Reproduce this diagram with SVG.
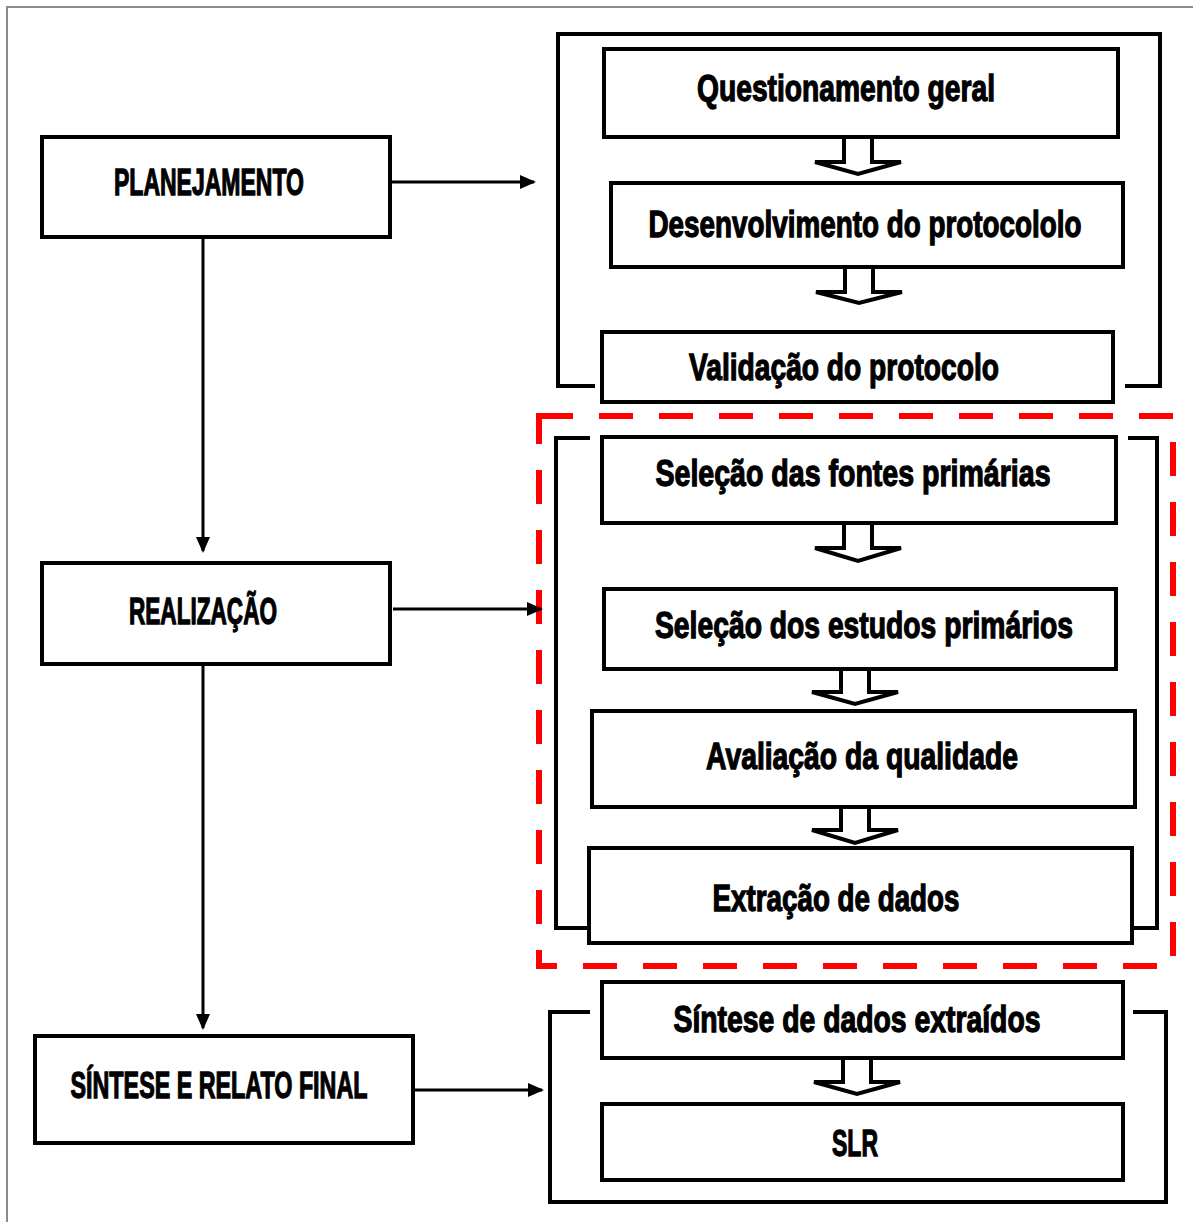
<svg xmlns="http://www.w3.org/2000/svg" width="1193" height="1222" viewBox="0 0 1193 1222">
<style>
.box{fill:#fff;stroke:#000;stroke-width:4}
.brk{fill:none;stroke:#000;stroke-width:4}
.ln{fill:none;stroke:#000;stroke-width:3}
.t{font-family:"Liberation Sans",Arial,sans-serif;font-weight:bold;font-size:32px;fill:#000;stroke:#000;stroke-width:1.1;text-anchor:middle}
.ha{fill:#fff;stroke:#000;stroke-width:4;stroke-linejoin:miter}
</style>
<defs>
<marker id="ah" markerWidth="16" markerHeight="16" refX="14" refY="8" orient="auto" markerUnits="userSpaceOnUse">
<path d="M0,1 L16,8 L0,15 Z" fill="#000"/>
</marker>
</defs>
<rect width="1193" height="1222" fill="#fff"/>
<path d="M7,1222 V7 H1193" fill="none" stroke="#8c8c8c" stroke-width="2"/>

<g id="brackets">
<path class="brk" d="M595,386 H558 V34 H1160 V386 H1125"/>
<path class="brk" d="M590,438 H556 V928 H590 M1128,438 H1157 V928 H1133"/>
<path class="brk" d="M590,1012 H550 V1202 H1166 V1012 H1133"/>
</g>

<rect id="focus" x="539" y="416" width="634" height="550" fill="none" stroke="#f00" stroke-width="6" stroke-dasharray="34 26"/>

<g id="connectors">
<path class="ln" d="M390,182 H534" marker-end="url(#ah)"/>
<path class="ln" d="M203,237 V551" marker-end="url(#ah)"/>
<path class="ln" d="M393,609 H541" marker-end="url(#ah)"/>
<path class="ln" d="M203,664 V1028" marker-end="url(#ah)"/>
<path class="ln" d="M413,1090 H542" marker-end="url(#ah)"/>
<path class="ha" d="M844,137 V162 H815 L858,174 L901,162 H872 V137"/>
<path class="ha" d="M845,267 V292 H816 L859,303 L902,292 H873 V267"/>
<path class="ha" d="M844,523 V548 H815 L858,561 L901,548 H872 V523"/>
<path class="ha" d="M841,669 V692 H812 L855,704 L898,692 H869 V669"/>
<path class="ha" d="M841,807 V830 H812 L855,843 L898,830 H869 V807"/>
<path class="ha" d="M843,1058 V1082 H814 L857,1094 L900,1082 H871 V1058"/>
</g>

<g id="n-planejamento"><rect class="box" x="42" y="137" width="348" height="100"/><text class="t" transform="translate(209,195) scale(1,1.16)" textLength="190" lengthAdjust="spacingAndGlyphs">PLANEJAMENTO</text></g>
<g id="n-realizacao"><rect class="box" x="42" y="563" width="348" height="101"/><text class="t" transform="translate(203,624) scale(1,1.16)" textLength="148" lengthAdjust="spacingAndGlyphs">REALIZAÇÃO</text></g>
<g id="n-sintese-final"><rect class="box" x="35" y="1036" width="378" height="107"/><text class="t" transform="translate(219,1098) scale(1,1.16)" textLength="297" lengthAdjust="spacingAndGlyphs">SÍNTESE E RELATO FINAL</text></g>

<g id="n-questionamento"><rect class="box" x="604" y="49" width="514" height="88"/><text class="t" transform="translate(846,101) scale(1,1.16)" textLength="298" lengthAdjust="spacingAndGlyphs">Questionamento geral</text></g>
<g id="n-desenvolvimento"><rect class="box" x="611" y="183" width="512" height="84"/><text class="t" transform="translate(865,237) scale(1,1.16)" textLength="433" lengthAdjust="spacingAndGlyphs">Desenvolvimento do protocololo</text></g>
<g id="n-validacao"><rect class="box" x="602" y="332" width="511" height="70"/><text class="t" transform="translate(844,380) scale(1,1.16)" textLength="310" lengthAdjust="spacingAndGlyphs">Validação do protocolo</text></g>

<g id="n-fontes"><rect class="box" x="602" y="437" width="514" height="86"/><text class="t" transform="translate(853,486) scale(1,1.16)" textLength="395" lengthAdjust="spacingAndGlyphs">Seleção das fontes primárias</text></g>
<g id="n-estudos"><rect class="box" x="604" y="589" width="512" height="80"/><text class="t" transform="translate(864,638) scale(1,1.16)" textLength="418" lengthAdjust="spacingAndGlyphs">Seleção dos estudos primários</text></g>
<g id="n-avaliacao"><rect class="box" x="592" y="711" width="543" height="96"/><text class="t" transform="translate(862,769) scale(1,1.16)" textLength="312" lengthAdjust="spacingAndGlyphs">Avaliação da qualidade</text></g>
<g id="n-extracao"><rect class="box" x="589" y="848" width="543" height="95"/><text class="t" transform="translate(836,911) scale(1,1.16)" textLength="247" lengthAdjust="spacingAndGlyphs">Extração de dados</text></g>

<g id="n-sintese-dados"><rect class="box" x="602" y="982" width="521" height="76"/><text class="t" transform="translate(857,1032) scale(1,1.16)" textLength="367" lengthAdjust="spacingAndGlyphs">Síntese de dados extraídos</text></g>
<g id="n-slr"><rect class="box" x="602" y="1104" width="521" height="76"/><text class="t" transform="translate(855,1156) scale(1,1.16)" textLength="46" lengthAdjust="spacingAndGlyphs">SLR</text></g>
</svg>
